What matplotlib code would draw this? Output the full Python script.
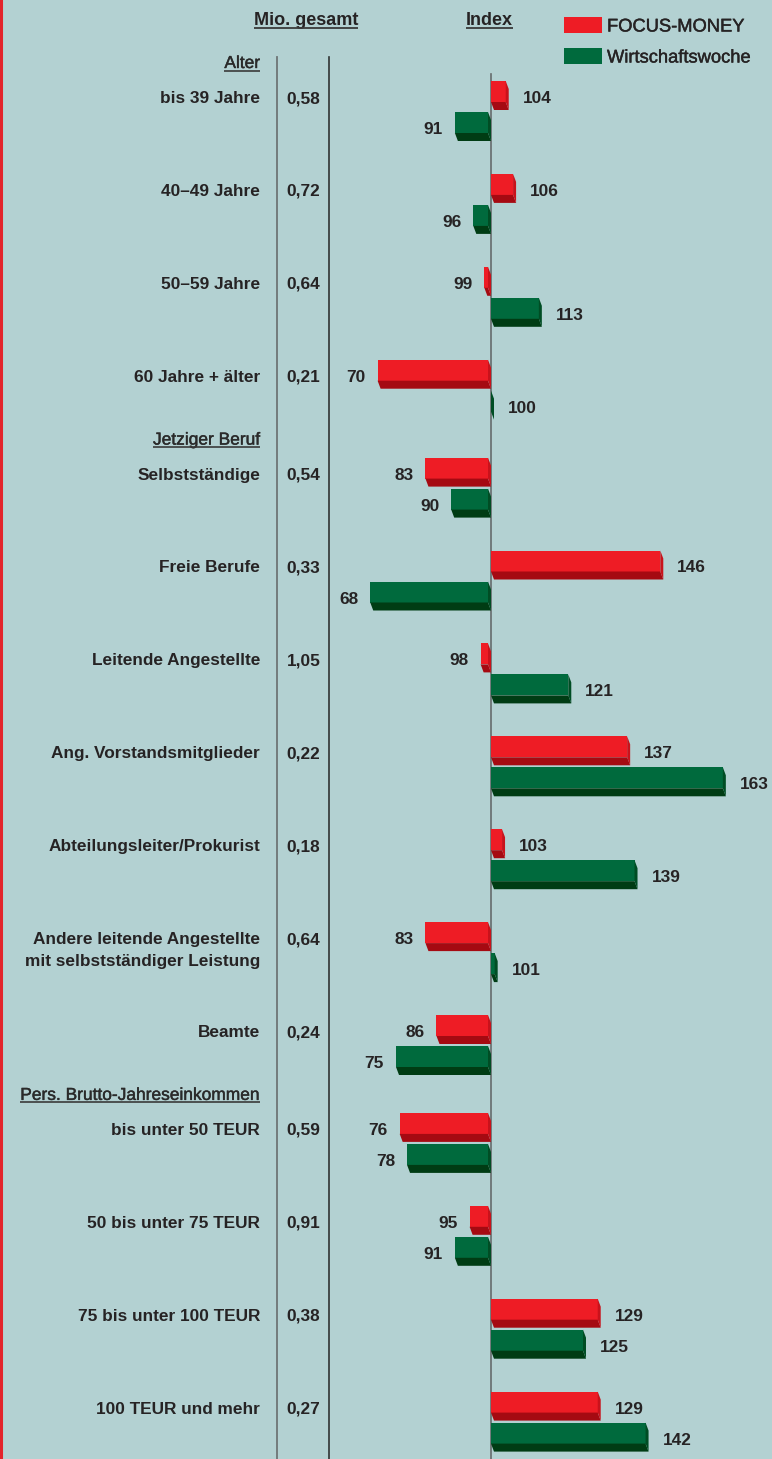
import matplotlib
matplotlib.use("Agg")
import matplotlib.pyplot as plt
from matplotlib.patches import Polygon, Rectangle
from matplotlib import font_manager
import matplotlib.patheffects as pe

# ---------------- data ----------------
sections = ["Alter", "Jetziger Beruf", "Pers. Brutto-Jahreseinkommen"]
categories = [
    "bis 39 Jahre", "40–49 Jahre", "50–59 Jahre", "60 Jahre + älter",
    "Selbstständige", "Freie Berufe", "Leitende Angestellte",
    "Ang. Vorstandsmitglieder", "Abteilungsleiter/Prokurist",
    "Andere leitende Angestellte\nmit selbstständiger Leistung", "Beamte",
    "bis unter 50 TEUR", "50 bis unter 75 TEUR", "75 bis unter 100 TEUR",
    "100 TEUR und mehr",
]
category_section = [0, 0, 0, 0, 1, 1, 1, 1, 1, 1, 1, 2, 2, 2, 2]
mio_gesamt = ["0,58", "0,72", "0,64", "0,21",
              "0,54", "0,33", "1,05", "0,22", "0,18", "0,64", "0,24",
              "0,59", "0,91", "0,38", "0,27"]
focus_money = [104, 106, 99, 70, 83, 146, 98, 137, 103, 83, 86, 76, 95, 129, 129]
wirtschaftswoche = [91, 96, 113, 100, 90, 68, 121, 163, 139, 101, 75, 78, 91, 125, 142]
series_names = ["FOCUS-MONEY", "Wirtschaftswoche"]

# ---------------- style ----------------
BG = "#b3d1d2"
TXT = "#262324"
RED = ("#ee1c25", "#a50a12", "#c9121b")      # face, bottom, side
GRN = ("#006a3d", "#003c14", "#004d24")

W, H = 772, 1459
fig = plt.figure(figsize=(W / 100, H / 100), dpi=100, facecolor=BG)
ax = fig.add_axes([0, 0, 1, 1])
ax.set_facecolor(BG)
ax.axis("off")

BASE = 100.0
BASE_PX = 491.0
S = 3.68  # px per index unit


def X(px):
    return BASE + (px - BASE_PX) / S


ax.set_xlim(X(0), X(W))
ax.set_ylim(H, 0)

families = {f.name for f in font_manager.fontManager.ttflist}
MAIN = "Liberation Sans" if "Liberation Sans" in families else "DejaVu Sans"

LBL = dict(family=MAIN, fontweight="bold", fontsize=12.4, color=TXT)
MED = [pe.withStroke(linewidth=0.3, foreground="#2a2a2a")]
SEC = dict(family=MAIN, fontweight="normal", fontsize=12.5, color="#2a2a2a",
           path_effects=MED)

renderer = fig.canvas.get_renderer()


def underline(t, offset=2.5, lw=1.3, color="#3a3a3a"):
    bb = t.get_window_extent(renderer=renderer)
    inv = ax.transData.inverted()
    (x0, _), (x1, _) = inv.transform([(bb.x0, 0), (bb.x1, 0)])
    yb = t.get_position()[1] + offset
    ax.plot([x0, x1], [yb, yb], color=color, lw=lw, solid_capstyle="butt", zorder=5)


# ---------------- layout ----------------
ROW0, STEP, SEC_GAP = 97.0, 92.9, 5.0
row_y = [ROW0 + i * STEP + category_section[i] * SEC_GAP for i in range(len(categories))]

FACE_H, DEPTH_Y = 21.0, 8.0
DX = 3.0 / S


def bar3d(value, top, colors):
    face, bottom, side = colors
    if value >= BASE:
        x0, x1 = BASE, value
    else:
        x0, x1 = value - DX, BASE - DX
    ax.barh(top + FACE_H / 2, x1 - x0, height=FACE_H, left=x0,
            color=face, edgecolor="none", zorder=3)
    ax.add_patch(Polygon([(x0, top + FACE_H), (x1, top + FACE_H),
                          (x1 + DX, top + FACE_H + DEPTH_Y), (x0 + DX, top + FACE_H + DEPTH_Y)],
                         closed=True, facecolor=bottom, edgecolor="none", zorder=3))
    ax.add_patch(Polygon([(x1, top), (x1 + DX, top + DEPTH_Y),
                          (x1 + DX, top + FACE_H + DEPTH_Y), (x1, top + FACE_H)],
                         closed=True, facecolor=side, edgecolor="none", zorder=3))
    return x0, x1


def value_label(value, y, x0, x1):
    if value >= BASE:
        ax.text(x1 + DX + 14 / S, y + 6, str(value), ha="left", va="baseline", **LBL)
    else:
        ax.text(x0 - 12 / S, y + 6, str(value), ha="right", va="baseline", **LBL)


# vertical rules
ax.plot([X(277), X(277)], [57, H], color="#6e7475", lw=1.3, zorder=1)
ax.plot([X(329), X(329)], [57, H], color="#2f3333", lw=1.2, zorder=1)
ax.plot([X(BASE_PX), X(BASE_PX)], [74, H], color="#666b6c", lw=1.2, zorder=1)

# red border on the left
fig.add_artist(plt.Line2D([0.0015, 0.0015], [0, 1], transform=fig.transFigure,
                          color="#e3242b", lw=2.2))

# column headers
t = ax.text(X(306), 25, "Mio. gesamt", ha="center", va="baseline",
            family=MAIN, fontweight="bold", fontsize=13, color=TXT)
underline(t, offset=2.5)
t = ax.text(X(489), 25, "Index", ha="center", va="baseline",
            family=MAIN, fontweight="bold", fontsize=13, color=TXT)
underline(t, offset=2.5)

# legend
for k, (name, col, yc) in enumerate(zip(series_names, [RED[0], GRN[0]], [25, 56])):
    ax.add_patch(Rectangle((X(564), yc - 8), X(602) - X(564), 16,
                           facecolor=col, edgecolor="none", zorder=4))
    ax.text(X(607), yc + 6.5, name, ha="left", va="baseline",
            family=MAIN, fontsize=13.2, color=TXT,
            path_effects=[pe.withStroke(linewidth=0.3, foreground=TXT)])

# section headers
first_of_section = {}
for i, s in enumerate(category_section):
    first_of_section.setdefault(s, i)
for s, name in enumerate(sections):
    y = row_y[first_of_section[s]] - 29
    t = ax.text(X(260), y, name, ha="right", va="baseline", **SEC)
    underline(t, offset=2.5, lw=1.2)

# rows
for i, cat in enumerate(categories):
    y = row_y[i]
    for j, line in enumerate(cat.split("\n")):
        ax.text(X(260), y + 6 + j * 22, line, ha="right", va="baseline", **LBL)
    ax.text(X(303.5), y + 6, mio_gesamt[i], ha="center", va="baseline", **LBL)

    # FOCUS-MONEY bar
    top_r = y - 16
    x0, x1 = bar3d(focus_money[i], top_r, RED)
    value_label(focus_money[i], y, x0, x1)

    # Wirtschaftswoche bar
    top_g = y + 15
    x0, x1 = bar3d(wirtschaftswoche[i], top_g, GRN)
    value_label(wirtschaftswoche[i], y + 31, x0, x1)

fig.savefig("out.png", dpi=100, facecolor=BG)
